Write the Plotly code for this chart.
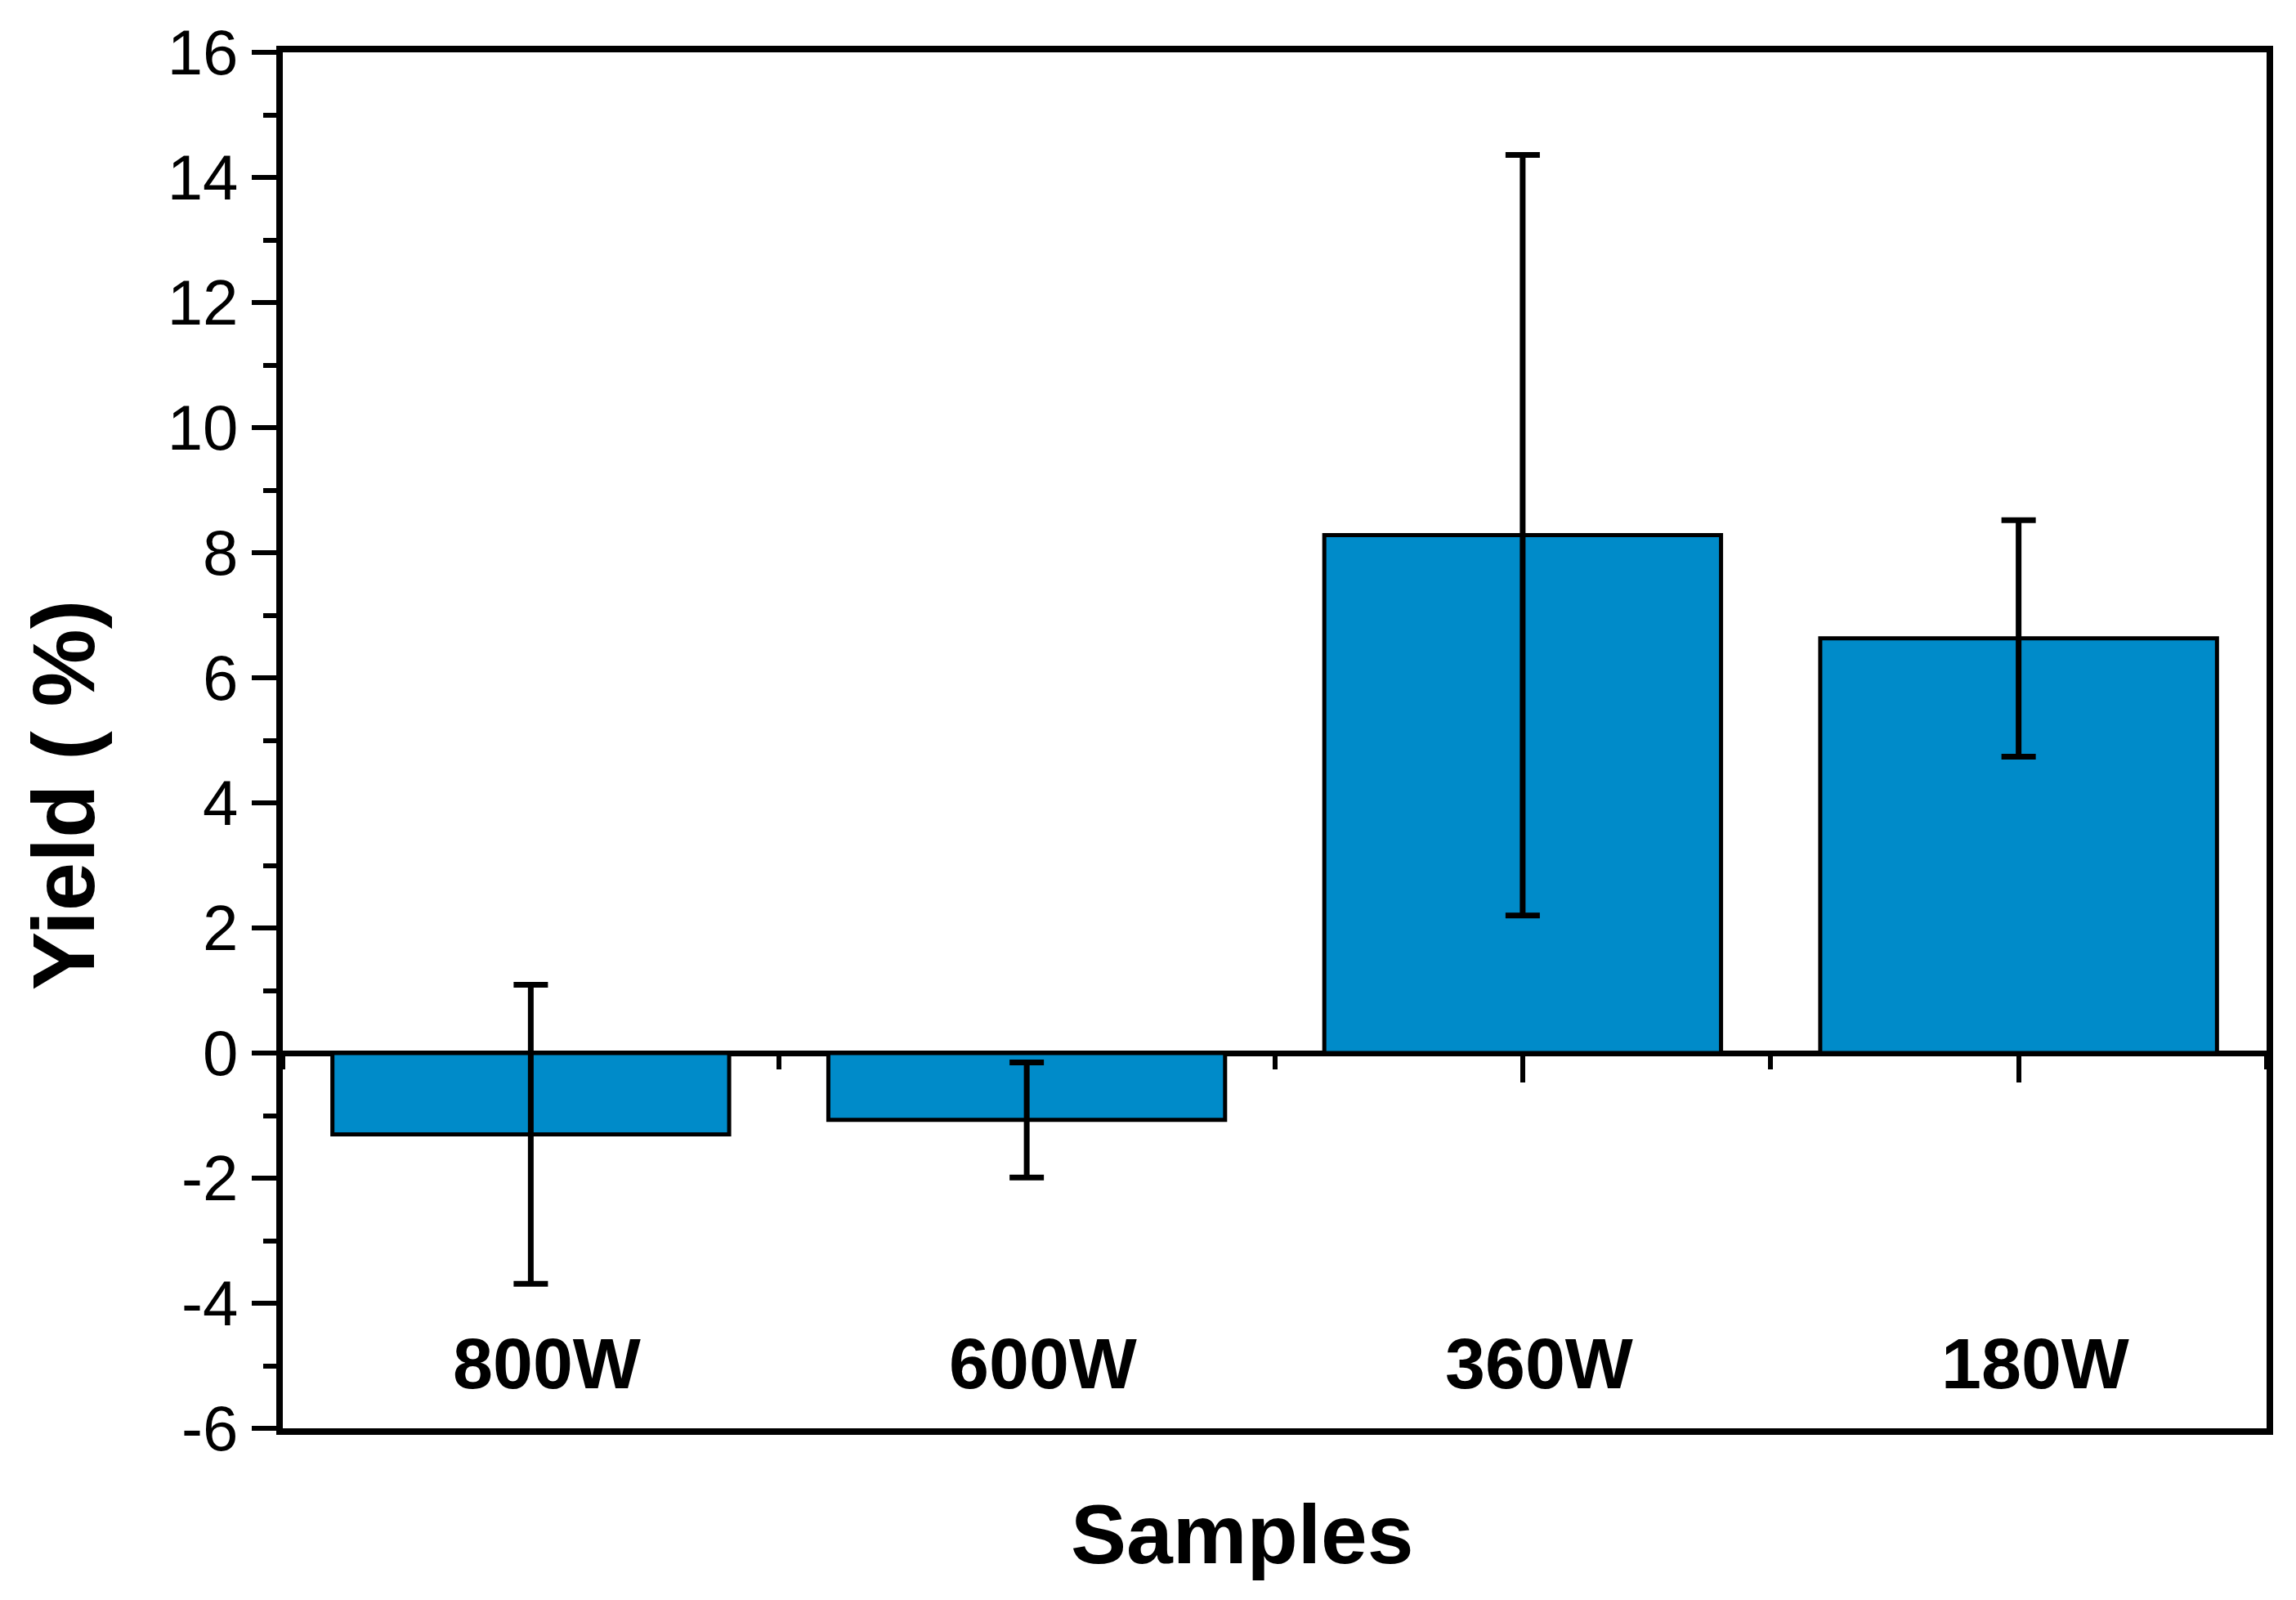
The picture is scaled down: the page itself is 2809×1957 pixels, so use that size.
import plotly.graph_objects as go

categories = ["800W", "600W", "360W", "180W"]
yield_values = [-1.30, -1.07, 8.28, 6.63]
yield_errors = [2.39, 0.92, 6.08, 1.89]
y_tick_values = [-6, -4, -2, 0, 2, 4, 6, 8, 10, 12, 14, 16]
y_tick_labels = ["-6", "-4", "-2", "0", "2", "4", "6", "8", "10", "12", "14", "16"]
x_title = "Samples"
y_title = "Yield ( %)"

FONT = "Liberation Sans, Arial, Helvetica, sans-serif"
BAR_COLOR = "#008BC9"

# page body has an 8px margin; figure is sized so the page is 2809x1957
W, H = 2801, 1949
L, R, T, B = 338, 36, 51, 210
plot_w = W - L - R
plot_h = H - T - B

x_pos = list(range(len(categories)))

fig = go.Figure()
fig.add_trace(go.Bar(
    x=x_pos, y=yield_values, width=0.8,
    marker=dict(color=BAR_COLOR, line=dict(color="black", width=5)),
    error_y=dict(type="data", array=yield_errors, visible=True,
                 color="black", thickness=7, width=21),
    showlegend=False, hoverinfo="skip",
))
# invisible trace bound to the zero-line axis so it is drawn
fig.add_trace(go.Scatter(
    x=x_pos, y=yield_values, xaxis="x2", mode="markers",
    marker=dict(opacity=0), showlegend=False, hoverinfo="skip",
))

annotations = []
for i, c in enumerate(categories):
    annotations.append(dict(
        x=x_pos[i], y=-4.96, xref="x", yref="y", text="<b>%s</b>" % c,
        showarrow=False, xanchor="center", yanchor="middle", xshift=20,
        font=dict(family=FONT, size=88, color="black"),
    ))
annotations.append(dict(
    x=(1512 - L) / plot_w, y=-(1869 - (T + plot_h)) / plot_h,
    xref="paper", yref="paper",
    text="<b>%s</b>" % x_title, showarrow=False, xanchor="center", yanchor="middle",
    font=dict(family=FONT, size=102, color="black"),
))
annotations.append(dict(
    x=(70 - L) / plot_w, y=((T + plot_h) - 962) / plot_h, xref="paper", yref="paper",
    text="<b>%s</b>" % y_title, showarrow=False, textangle=-90,
    xanchor="center", yanchor="middle",
    font=dict(family=FONT, size=107, color="black"),
))

fig.update_layout(
    width=W, height=H,
    margin=dict(l=L, r=R, t=T, b=B),
    paper_bgcolor="white", plot_bgcolor="white",
    showlegend=False,
    font=dict(family=FONT, color="black"),
    xaxis=dict(range=[-0.5, 3.5], showline=True, mirror=True, linecolor="black",
               linewidth=8, ticks="", showticklabels=False, showgrid=False,
               zeroline=False, fixedrange=True),
    xaxis2=dict(overlaying="x", anchor="free", position=6 / 22, range=[-0.5, 3.5],
                showline=True, linecolor="black", linewidth=7,
                tickmode="array", tickvals=x_pos, ticks="outside", ticklen=32,
                tickwidth=6, tickcolor="black", showticklabels=False,
                minor=dict(tickmode="linear", tick0=-0.5, dtick=1, ticks="outside",
                           ticklen=16, tickwidth=6, tickcolor="black"),
                showgrid=False, zeroline=False, layer="below traces"),
    yaxis=dict(range=[-6, 16], showline=True, mirror=True, linecolor="black",
               linewidth=8, tickmode="array", tickvals=y_tick_values,
               ticktext=y_tick_labels, ticks="outside", ticklen=30, tickwidth=6,
               tickcolor="black", tickfont=dict(family=FONT, size=78, color="black"),
               ticklabelstandoff=1,
               minor=dict(tickmode="linear", tick0=0, dtick=1, ticks="outside",
                          ticklen=16, tickwidth=6, tickcolor="black"),
               showgrid=False, zeroline=False),
    annotations=annotations,
)

fig.write_html("out.html")
